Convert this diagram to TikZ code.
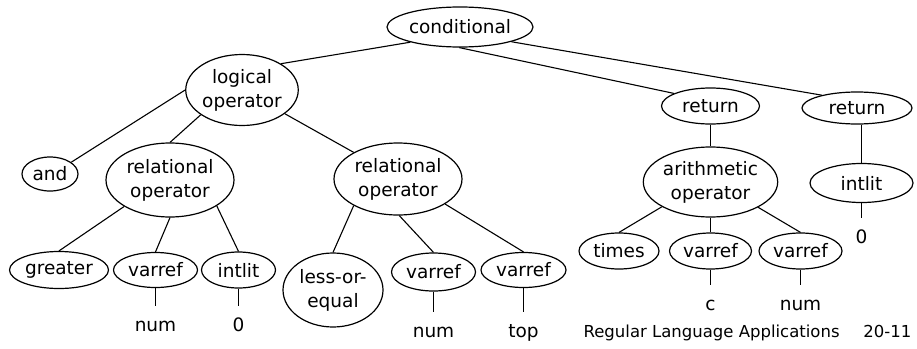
\documentclass[tikz,border=0pt]{standalone}
\usepackage{fontspec}
\setmainfont{DejaVu Sans}
\usetikzlibrary{shapes.geometric}
\begin{document}
\begin{tikzpicture}[x=1pt,y=-1pt,line width=1.2pt,
  el/.style={ellipse,draw,inner sep=0pt,align=center,font=\fontsize{18.5}{24}\selectfont},
  leaf/.style={anchor=base,inner xsep=0pt,inner ysep=11pt,text height=13pt,text depth=0pt,font=\fontsize{18.5}{24}\selectfont},
  edge/.style={draw,line width=1.1pt}]
\useasboundingbox (0,0) rectangle (917,348);
% nodes
\node[el,minimum width=146pt,minimum height=40pt] (cond) at (460,27) {conditional};
\node[el,minimum width=112pt,minimum height=71pt] (logic) at (242,90) {logical\\operator};
\node[el,minimum width=56pt,minimum height=34pt] (and) at (50,174) {and};
\node[el,minimum width=128pt,minimum height=74pt] (rel1) at (170,180) {relational\\operator};
\node[el,minimum width=128pt,minimum height=72pt] (rel2) at (398,179) {relational\\operator};
\node[el,minimum width=98pt,minimum height=36pt] (ret1) at (710.5,106) {return};
\node[el,minimum width=110pt,minimum height=32pt] (ret2) at (857,108) {return};
\node[el,minimum width=134pt,minimum height=70pt] (arith) at (710.5,182) {arithmetic\\operator};
\node[el,minimum width=103pt,minimum height=39pt] (intlit2) at (861.5,183) {intlit};
\node[el,minimum width=99pt,minimum height=37pt] (greater) at (59,270) {greater};
\node[el,minimum width=84pt,minimum height=35pt] (varref1) at (155.5,270) {varref};
\node[el,minimum width=74pt,minimum height=36pt] (intlit1) at (238.5,270) {intlit};
\node[el,minimum width=100pt,minimum height=74pt] (leq) at (333,290) {less-or-\\equal};
\node[el,minimum width=84pt,minimum height=38pt] (varref2) at (433.5,272) {varref};
\node[el,minimum width=85pt,minimum height=35pt] (varref3) at (523.5,270) {varref};
\node[el,minimum width=80pt,minimum height=36pt] (times) at (619,251) {times};
\node[el,minimum width=82pt,minimum height=36pt] (varref4) at (710.5,251) {varref};
\node[el,minimum width=83pt,minimum height=36pt] (varref5) at (800.5,251) {varref};
% leaves
\node[leaf] (num1) at (155.5,331) {num};
\node[leaf] (zero1) at (238.5,331) {0};
\node[leaf] (num2) at (433.5,337) {num};
\node[leaf] (top) at (523.5,337) {top};
\node[leaf] (c) at (710.5,310) {c};
\node[leaf] (num3) at (800.5,310) {num};
\node[leaf] (zero2) at (861.5,243) {0};
% footer
\node[anchor=base west,inner sep=0pt,font=\fontsize{16.5}{18}\selectfont] (foot) at (583,337) {Regular Language Applications};
\node[anchor=base east,inner sep=0pt,font=\fontsize{16.5}{18}\selectfont] (page) at (912,337) {20-11};
% edges
\draw[edge] (cond.197) -- (logic.34);
\draw[edge] (cond.268) -- (ret1.161);
\draw[edge] (cond.344) -- (ret2.160);
\draw[edge] (logic.west) -- (and.29);
\draw[edge] (logic.211) -- (rel1.north);
\draw[edge] (logic.331) -- (rel2.149);
\draw[edge] (rel1.210) -- (greater.north);
\draw[edge] (rel1.south) -- (varref1.north);
\draw[edge] (rel1.331) -- (intlit1.north);
\draw[edge] (rel2.211) -- (leq.north);
\draw[edge] (rel2.272) -- (varref2.north);
\draw[edge] (rel2.332) -- (varref3.north);
\draw[edge] (ret1.south) -- (arith.north);
\draw[edge] (intlit2.north |- ret2.south) -- (intlit2.north);
\draw[edge] (arith.207) -- (times.north);
\draw[edge] (arith.south) -- (varref4.north);
\draw[edge] (arith.332) -- (varref5.north);
\draw[edge] (varref1.south) -- (num1.north);
\draw[edge] (intlit1.south) -- (zero1.north);
\draw[edge] (varref2.south) -- (num2.north);
\draw[edge] (varref3.south) -- (top.north);
\draw[edge] (varref4.south) -- (c.north);
\draw[edge] (varref5.south) -- (num3.north);
\draw[edge] (intlit2.south) -- (zero2.north);
\end{tikzpicture}
\end{document}
